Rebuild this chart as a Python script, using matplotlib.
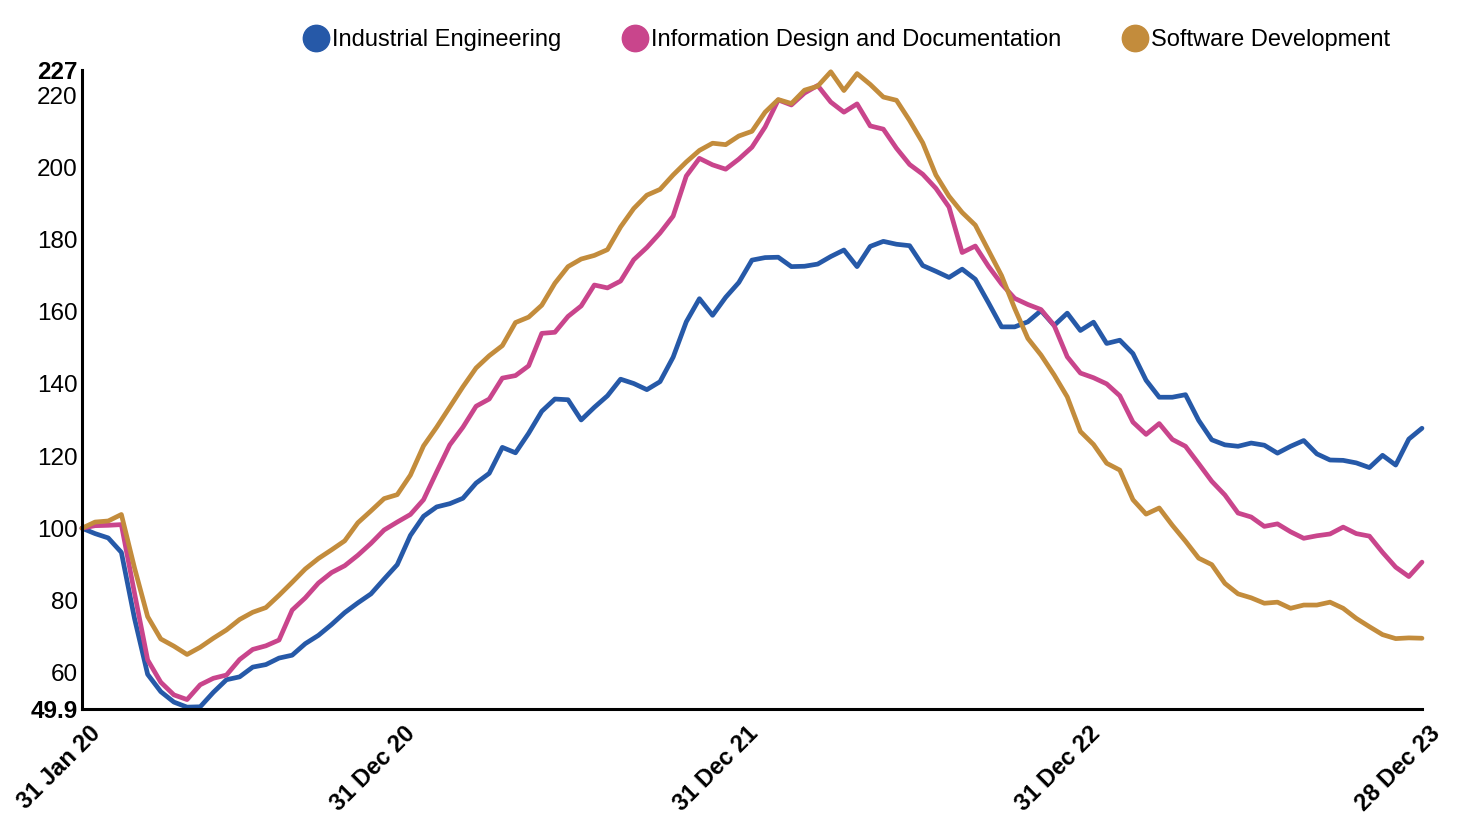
import pandas as pd
import matplotlib
matplotlib.use("Agg")
import matplotlib.pyplot as plt
from matplotlib.lines import Line2D

plt.rcParams['font.family'] = ['Liberation Sans', 'DejaVu Sans']

# fortnightly index values (31 Jan 2020 = 100)
dates = pd.date_range("2020-01-31", "2023-12-28", periods=103)

industrial_eng = [
    100, 98.5, 97.3, 93.3, 75, 59.5, 54.7, 51.8, 50.4, 50.5,
    54.5, 58, 58.8, 61.5, 62.2, 64, 64.8, 68, 70.3, 73.3,
    76.6, 79.3, 81.8, 85.9, 89.9, 98, 103.3, 105.9, 106.8, 108.3,
    112.5, 115.2, 122.4, 120.9, 126.3, 132.4, 135.8, 135.6, 130, 133.5,
    136.7, 141.3, 140.1, 138.4, 140.6, 147.4, 157.2, 163.6, 159, 164,
    168.1, 174.3, 175, 175.1, 172.5, 172.6, 173.2, 175.3, 177.1, 172.5,
    178.1, 179.5, 178.7, 178.3, 172.8, 171.2, 169.5, 171.8, 169, 162.5,
    155.8, 155.8, 157.2, 160.3, 156.2, 159.6, 154.8, 157.1, 151.2, 152.1,
    148.4, 141, 136.3, 136.3, 137, 129.9, 124.5, 123.1, 122.7, 123.6,
    123, 120.8, 122.7, 124.3, 120.6, 118.9, 118.8, 118.1, 116.8, 120.2,
    117.5, 124.7, 127.7,
]

info_design = [
    100, 100.7, 100.8, 101, 82, 63.5, 57.3, 53.8, 52.5, 56.6,
    58.4, 59.3, 63.6, 66.4, 67.4, 69, 77.3, 80.7, 84.8, 87.7,
    89.6, 92.5, 95.8, 99.5, 101.7, 103.8, 107.9, 115.6, 123.1, 128,
    133.8, 135.8, 141.6, 142.3, 145, 154, 154.3, 158.7, 161.6, 167.4,
    166.6, 168.5, 174.4, 177.8, 181.8, 186.5, 197.6, 202.5, 200.7, 199.5,
    202.3, 205.6, 211.2, 218.7, 217.3, 220.6, 222.7, 218.1, 215.3, 217.6,
    211.5, 210.6, 205.3, 200.8, 198.1, 194.2, 189, 176.4, 178.2, 172.6,
    167.7, 163.7, 162, 160.6, 156.2, 147.5, 143, 141.7, 140, 136.7,
    129.4, 126, 129, 124.6, 122.7, 117.9, 113, 109.2, 104.2, 103.1,
    100.5, 101.2, 99, 97.2, 97.9, 98.4, 100.3, 98.5, 97.8, 93.3,
    89.2, 86.6, 90.6,
]

software_dev = [
    100, 101.7, 102, 103.8, 89, 75.5, 69.3, 67.3, 65, 67,
    69.5, 71.8, 74.7, 76.7, 78, 81.4, 85, 88.7, 91.6, 94,
    96.5, 101.5, 104.8, 108.2, 109.3, 114.7, 122.8, 128, 133.6, 139.2,
    144.4, 147.8, 150.6, 157, 158.5, 161.8, 167.9, 172.5, 174.6, 175.6,
    177.2, 183.5, 188.6, 192.3, 193.9, 197.9, 201.5, 204.7, 206.7, 206.3,
    208.7, 210, 215.3, 218.8, 217.7, 221.4, 222.5, 226.5, 221.3, 226,
    223, 219.5, 218.6, 213, 206.8, 197.9, 192, 187.5, 184, 177,
    170, 160.9, 152.6, 148, 142.5, 136.4, 126.8, 123.2, 118, 116.1,
    107.9, 103.9, 105.6, 100.8, 96.4, 91.7, 89.9, 84.7, 81.8, 80.7,
    79.2, 79.5, 77.8, 78.7, 78.7, 79.5, 77.8, 75, 72.7, 70.5,
    69.4, 69.6, 69.5,
]

series_names = ["Industrial Engineering", "Information Design and Documentation",
                "Software Development"]
series_colors = ["#2659a8", "#c9458c", "#c38c3c"]

tick_dates = pd.to_datetime(["2020-01-31", "2020-12-31", "2021-12-31",
                             "2022-12-31", "2023-12-28"])
y_ticks = [49.9, 60, 80, 100, 120, 140, 160, 180, 200, 220, 227]

fig = plt.figure(figsize=(14.74, 8.4), dpi=100)
ax = fig.add_axes([0.0556, 0.156, 0.9091, 0.7607])

for vals, name, col in zip([industrial_eng, info_design, software_dev],
                           series_names, series_colors):
    ax.plot(dates, vals, color=col, lw=3.4, solid_joinstyle='round',
            solid_capstyle='round', label=name, clip_on=False)

ax.set_xlim(dates[0], dates[-1])
ax.set_ylim(49.9, 227)

ax.set_yticks(y_ticks)
ax.set_yticklabels([("%g" % v) for v in y_ticks], fontsize=17.5)
for lab in ax.get_yticklabels():
    if lab.get_text() in ("49.9", "227"):
        lab.set_fontweight('bold')

# rotated date labels, drawn by hand so they can sit right of the tick
ax.set_xticks(tick_dates)
ax.set_xticklabels([])
for d in tick_dates:
    ax.annotate(d.strftime("%d %b %y"), xy=(d, 0), xycoords=('data', 'axes fraction'),
                xytext=(7, -13), textcoords='offset pixels', fontsize=17,
                fontweight='bold', rotation=45, ha='right', va='top',
                rotation_mode='anchor', annotation_clip=False)

ax.tick_params(axis='both', length=0, pad=3)
for side in ['top', 'right']:
    ax.spines[side].set_visible(False)
for side in ['left', 'bottom']:
    ax.spines[side].set_linewidth(2.2)
    ax.spines[side].set_color('black')

handles = [Line2D([], [], marker='o', ls='none', markersize=19,
                  markerfacecolor=c, markeredgecolor=c) for c in series_colors]
fig.legend(handles, series_names, loc='center', bbox_to_anchor=(0.574, 0.952),
           ncol=3, frameon=False, fontsize=17, handletextpad=0.1,
           columnspacing=2.5, handlelength=1.2)

fig.savefig("out.png", dpi=100)
